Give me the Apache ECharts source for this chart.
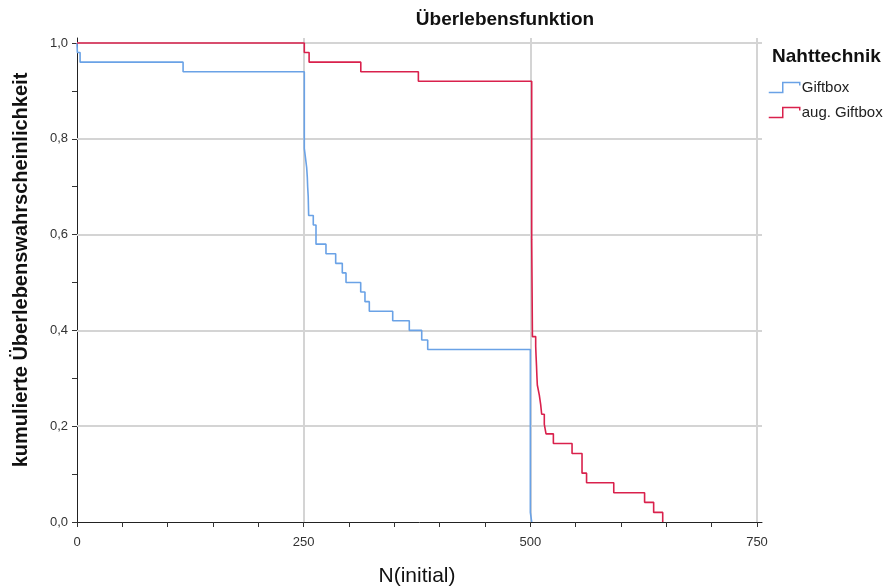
<!DOCTYPE html>
<html>
<head>
<meta charset="utf-8">
<script src="https://cdn.jsdelivr.net/npm/echarts@6/dist/echarts.min.js"></script>
<style>
  html, body { margin: 0; padding: 0; background: #fff; }
  #chart { width: 888px; height: 588px; }
</style>
</head>
<body>
<div id="chart"></div>
<script>
// Kaplan-Meier survival by suture technique
const groupNames = ['Giftbox', 'aug. Giftbox'];

// Giftbox: event times and survival after each event
const giftboxTimes = [0, 0.4, 3.4, 117, 250.7, 252, 253.3, 254, 254.4, 255, 255.5, 260.6, 263.6,
  274.6, 285.3, 292.6, 296.7, 312.9, 317.6, 322.4, 348.2, 366.5, 380.2, 386.8, 500, 501.5];
const giftboxSurvival = [1.0, 0.98, 0.96, 0.94, 0.78, 0.76, 0.74, 0.72, 0.70, 0.68, 0.64, 0.62, 0.58,
  0.56, 0.54, 0.52, 0.50, 0.48, 0.46, 0.44, 0.42, 0.40, 0.38, 0.36, 0.02, 0.0];

// aug. Giftbox
const augTimes = [0, 250.7, 256, 313, 376.5, 501.5, 502.3, 505.9, 506.3, 506.8, 507.2, 507.7, 509.9,
  511.4, 512.5, 515.4, 517.3, 525.4, 546, 557, 562, 592, 626, 636, 646];
const augSurvival = [1.0, 0.98, 0.96, 0.94, 0.92, 0.59, 0.387, 0.367, 0.347, 0.326, 0.306, 0.286, 0.265,
  0.245, 0.225, 0.204, 0.184, 0.164, 0.143, 0.102, 0.082, 0.061, 0.041, 0.020, 0.0];

// axis ticks and grid lines
const xMajorStep = 250;
const xMinorCount = 5;
const yMajorStep = 0.2;
const yMinorCount = 2;
const xGridValues = [250, 500, 750];
const yGridValues = [0.2, 0.4, 0.6, 0.8, 1.0];

const colors = ['#6aa2e6', '#d9214c'];
const font = 'Liberation Sans, Arial, sans-serif';

function pairs(xs, ys) {
  return xs.map((x, i) => [x, ys[i]]);
}

const chart = echarts.init(document.getElementById('chart'), null, { renderer: 'canvas' });

const stepIcon = 'path://M0,10L14,10L14,0L31,0L31,3';

chart.setOption({
  animation: false,
  backgroundColor: '#ffffff',
  title: [
    {
      text: 'Überlebensfunktion',
      left: 505, top: 10, textAlign: 'center', padding: 0,
      textStyle: { fontFamily: font, fontSize: 19, fontWeight: 'bold', color: '#111' }
    },
    {
      text: 'Nahttechnik',
      left: 772, top: 47, padding: 0,
      textStyle: { fontFamily: font, fontSize: 19, fontWeight: 'bold', color: '#111' }
    }
  ],
  graphic: [
    {
      type: 'text', x: 21, y: 270, rotation: Math.PI / 2, silent: true,
      style: {
        text: 'kumulierte Überlebenswahrscheinlichkeit',
        font: 'bold 20px ' + font, fill: '#111',
        align: 'center', verticalAlign: 'middle'
      }
    }
  ],
  legend: {
    orient: 'vertical',
    left: 768, top: 80,
    padding: 0,
    itemWidth: 31, itemHeight: 10, itemGap: 10,
    icon: stepIcon,
    textStyle: { fontFamily: font, fontSize: 15, color: '#222', padding: [0, 0, 0, -3] },
    data: groupNames.map((n, i) => ({
      name: n,
      itemStyle: { color: 'rgba(0,0,0,0)', borderColor: colors[i], borderWidth: 1.5 }
    }))
  },
  grid: [
    // outer plot frame, slightly padded beyond the last ticks
    { left: 77, top: 38, width: 685, height: 484, containLabel: false, outerBoundsMode: 'none' },
    // tick frame, 0..750 by 0..1
    { left: 77, top: 43, width: 680, height: 479, containLabel: false, outerBoundsMode: 'none' }
  ],
  xAxis: [
    {
      gridIndex: 0, type: 'value', min: 0, max: 755.5,
      axisLine: { show: true, lineStyle: { color: '#222', width: 1 } },
      axisTick: { show: false }, axisLabel: { show: false }, splitLine: { show: false }
    },
    {
      gridIndex: 1, type: 'value', min: 0, max: 750, interval: xMajorStep,
      name: 'N(initial)', nameLocation: 'middle', nameGap: 44,
      nameTextStyle: { fontFamily: font, fontSize: 21, color: '#111' },
      axisLine: { show: false },
      axisTick: { show: true, length: 5, lineStyle: { color: '#333' } },
      minorTick: { show: true, splitNumber: xMinorCount, length: 5, lineStyle: { color: '#333' } },
      axisLabel: { margin: 14, fontFamily: font, fontSize: 13, color: '#333' },
      splitLine: { show: false }
    }
  ],
  yAxis: [
    {
      gridIndex: 0, type: 'value', min: 0, max: 1.0104,
      axisLine: { show: true, lineStyle: { color: '#222', width: 1 } },
      axisTick: { show: false }, axisLabel: { show: false }, splitLine: { show: false }
    },
    {
      gridIndex: 1, type: 'value', min: 0, max: 1, interval: yMajorStep,
      axisLine: { show: false },
      axisTick: { show: true, length: 5, lineStyle: { color: '#333' } },
      minorTick: { show: true, splitNumber: yMinorCount, length: 5, lineStyle: { color: '#333' } },
      axisLabel: {
        margin: 9, fontFamily: font, fontSize: 13, color: '#333',
        formatter: v => v.toFixed(1).replace('.', ',')
      },
      splitLine: { show: false }
    }
  ],
  series: [
    {
      // reference grid lines, kept beneath the curves
      type: 'line', xAxisIndex: 0, yAxisIndex: 0, z: 1, silent: true,
      data: [[0, 0]], showSymbol: false, lineStyle: { opacity: 0 },
      markLine: {
        z: 1, silent: true, symbol: 'none', animation: false,
        label: { show: false },
        lineStyle: { color: '#d4d4d4', width: 2, type: 'solid' },
        data: yGridValues.map(v => ({ yAxis: v })).concat(xGridValues.map(v => ({ xAxis: v })))
      }
    },
    {
      name: groupNames[0], type: 'line', step: 'end', xAxisIndex: 0, yAxisIndex: 0, z: 10,
      data: pairs(giftboxTimes, giftboxSurvival),
      showSymbol: false, symbol: 'none', clip: false,
      lineStyle: { color: colors[0], width: 1.6 },
      itemStyle: { color: colors[0] }
    },
    {
      name: groupNames[1], type: 'line', step: 'end', xAxisIndex: 0, yAxisIndex: 0, z: 10,
      data: pairs(augTimes, augSurvival),
      showSymbol: false, symbol: 'none', clip: false,
      lineStyle: { color: colors[1], width: 1.6 },
      itemStyle: { color: colors[1] }
    }
  ]
});
</script>
</body>
</html>
